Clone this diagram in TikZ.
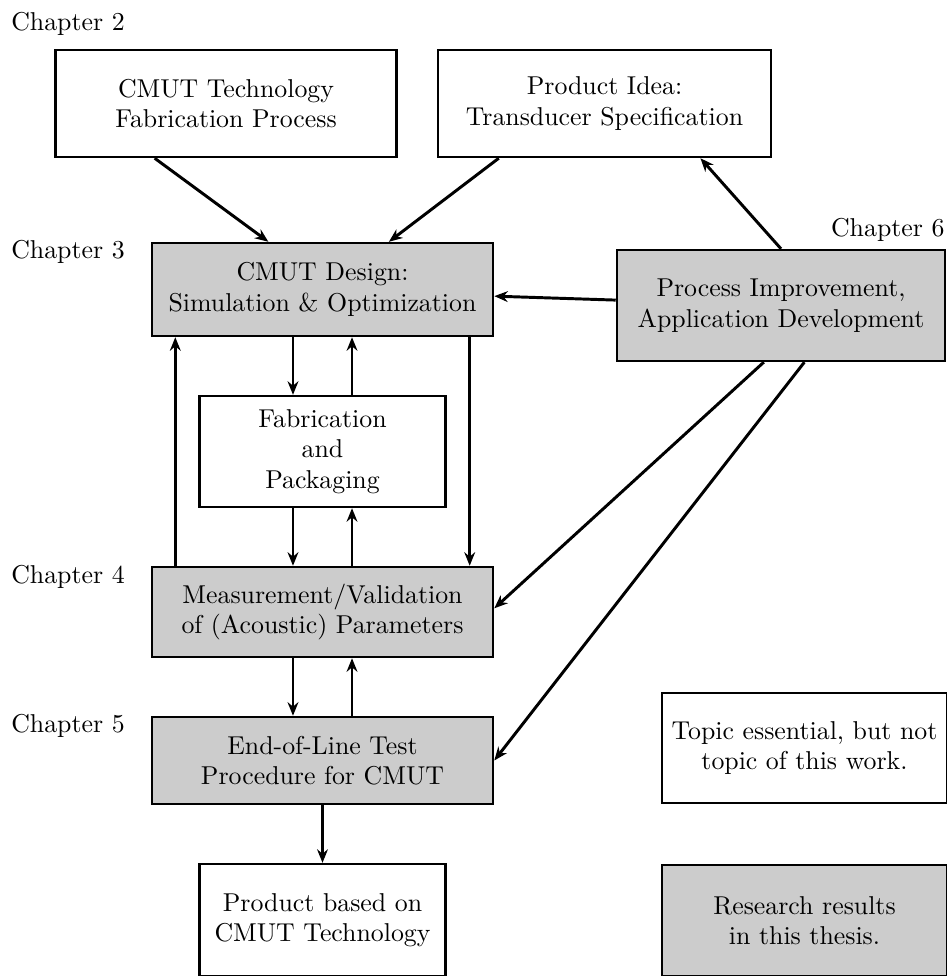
\documentclass[tikz,border=0pt]{standalone}
\usetikzlibrary{arrows.meta}
\begin{document}
\begin{tikzpicture}[x=0.4066pt,y=-0.4066pt,
    font=\fontsize{10.5}{12.4}\selectfont,
    >={Stealth[length=5.5pt,width=4.4pt,inset=1.8pt]},
    box/.style={draw, line width=1pt, fill=white, align=center, inner sep=2pt},
    resbox/.style={box, fill=gray!40},
    chap/.style={anchor=center, inner sep=0pt}]
  \useasboundingbox (0,0) rectangle (947,976);
  % chapters
  \node[chap] (ch2) at (68,24) {Chapter 2};
  \node[chap] (ch3) at (68,252) {Chapter 3};
  \node[chap, anchor=east] (ch6) at (945,230) {Chapter 6};
  \node[chap] (ch4) at (68,577) {Chapter 4};
  \node[chap] (ch5) at (68,726) {Chapter 5};
  % boxes
  \node[box, minimum width=138.7pt, minimum height=43.5pt] (tech) at (226,103.5) {CMUT Technology\\Fabrication Process};
  \node[box, minimum width=135.4pt, minimum height=43.5pt] (idea) at (604.5,103.5) {Product Idea:\\Transducer Specification};
  \node[resbox, minimum width=138.7pt, minimum height=37.8pt] (design) at (322.5,289.5) {CMUT Design:\\Simulation \& Optimization};
  \node[resbox, minimum width=133.4pt, minimum height=45.1pt] (improve) at (781,305.5) {Process Improvement,\\Application Development};
  \node[box, minimum width=100pt, minimum height=45.1pt] (fab) at (322.5,451.5) {Fabrication\\and\\Packaging};
  \node[resbox, minimum width=138.7pt, minimum height=36.6pt] (measure) at (322.5,612) {Measurement/Validation\\of (Acoustic) Parameters};
  \node[resbox, minimum width=138.7pt, minimum height=35.4pt] (eol) at (322.5,760.5) {End-of-Line Test\\Procedure for CMUT};
  \node[box, minimum width=100pt, minimum height=45.5pt] (product) at (322.5,920) {Product based on\\CMUT Technology};
  \node[box, minimum width=115.9pt, minimum height=44.7pt] (legw) at (804.5,748) {Topic essential, but not\\topic of this work.};
  \node[resbox, minimum width=115.9pt, minimum height=45.1pt] (legg) at (804.5,920.5) {Research results\\in this thesis.};
  % arrows
  \draw[very thick,->] ([xshift=-29pt]tech.south) -- ([xshift=-22pt]design.north);
  \draw[very thick,->] ([xshift=-43pt]idea.south) -- ([xshift=27pt]design.north);
  \draw[very thick,->] (improve.north) -- ([xshift=39pt]idea.south);
  \draw[very thick,->] ([yshift=2.2pt]improve.west) -- ([yshift=-2.7pt]design.east);
  \draw[very thick,->] ([xshift=-12pt]design.south) -- ([xshift=-12pt]fab.north);
  \draw[very thick,<-] ([xshift=12pt]design.south) -- ([xshift=12pt]fab.north);
  \draw[very thick,->] ([xshift=-12pt]fab.south) -- ([xshift=-12pt]measure.north);
  \draw[very thick,<-] ([xshift=12pt]fab.south) -- ([xshift=12pt]measure.north);
  \draw[very thick,<-] ([xshift=10pt]design.south west) -- ([xshift=10pt]measure.north west);
  \draw[very thick,->] ([xshift=-10pt]design.south east) -- ([xshift=-10pt]measure.north east);
  \draw[very thick,->] ([xshift=-7pt]improve.south) -- ([yshift=1.5pt]measure.east);
  \draw[very thick,->] ([xshift=9.5pt]improve.south) -- (eol.east);
  \draw[very thick,->] ([xshift=-12pt]measure.south) -- ([xshift=-12pt]eol.north);
  \draw[very thick,<-] ([xshift=12pt]measure.south) -- ([xshift=12pt]eol.north);
  \draw[very thick,->] (eol.south) -- (product.north);
\end{tikzpicture}
\end{document}
